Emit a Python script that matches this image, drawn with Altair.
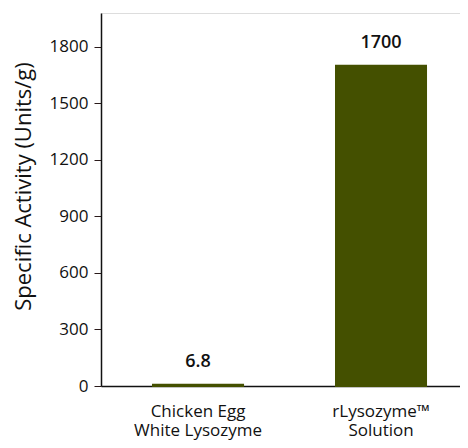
import altair as alt
import pandas as pd

products = ["Chicken Egg|White Lysozyme", "rLysozyme™|Solution"]
activity = [6.8, 1700]
value_labels = ["6.8", "1700"]
y_ticks = [0, 300, 600, 900, 1200, 1500, 1800]

df = pd.DataFrame({"product": products, "activity": activity, "label": value_labels})

FONT = "Open Sans"
COLOR = "#445000"

x = alt.X(
    "product:N",
    sort=products,
    title=None,
    scale=alt.Scale(paddingInner=0.508, paddingOuter=0.235, align=0.605),
    axis=alt.Axis(
        labelExpr="split(datum.label, '|')",
        labelAngle=0,
        ticks=False,
        labelPadding=17,
        labelFontSize=17,
        labelFont=FONT,
        labelColor="#111111",
        labelLineHeight=19,
        domainColor="#111111",
        domainWidth=1.5,
    ),
)

y = alt.Y(
    "activity:Q",
    title="Specific Activity (Units/g)",
    scale=alt.Scale(domain=[0, 1980], nice=False),
    axis=alt.Axis(
        values=y_ticks,
        format="d",
        grid=False,
        tickSize=7,
        tickColor="#2a1a1a",
        labelFontSize=17,
        labelFont=FONT,
        labelColor="#111111",
        labelPadding=6,
        titleFont=FONT,
        titleFontSize=22,
        titleFontWeight="normal",
        titleColor="#111111",
        titlePadding=14,
        titleY=173,
        domainColor="#111111",
        domainWidth=1.5,
    ),
)

bars = alt.Chart(df).mark_bar(color=COLOR, stroke=COLOR, strokeWidth=2).encode(x=x, y=y)

texts = alt.Chart(df).mark_text(
    baseline="bottom", dy=-14, font=FONT, fontSize=18, fontWeight=600, color="#111111"
).encode(x=alt.X("product:N", sort=products), y="activity:Q", text="label:N")

chart = (
    alt.layer(bars, texts)
    .properties(
        width=359,
        height=373,
        autosize=alt.AutoSizeParams(type="none"),
        padding={"left": 93, "top": 5, "right": 0, "bottom": 54},
    )
    .configure_view(stroke=None)
    .configure(background="white")
)

chart.save("out.html", embed_options={"renderer": "svg", "actions": False})
